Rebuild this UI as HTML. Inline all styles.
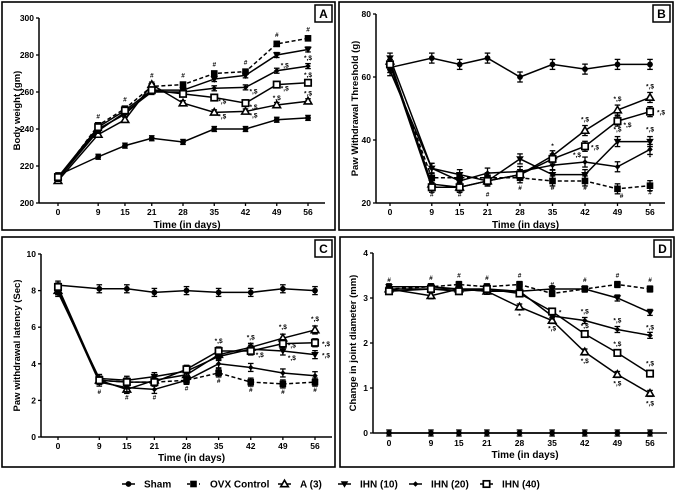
<!DOCTYPE html>
<html><head><meta charset="utf-8"><style>
html,body{margin:0;padding:0;background:#fff;}
svg{display:block;font-family:"Liberation Sans",Arial,sans-serif;}
text{font-weight:bold;fill:#000;}
</style></head><body>
<svg id="fig" width="677" height="500" viewBox="0 0 677 500"></svg>
<script>
const days = [0, 9, 15, 21, 28, 35, 42, 49, 56];
const seriesNames = ["Sham", "OVX Control", "A (3)", "IHN (10)", "IHN (20)", "IHN (40)"];
// Panel A: body weight
const aSham = [215, 225, 231, 235, 233, 240, 240, 245, 246];
const aOvx  = [213, 242, 251, 263, 264, 270, 271, 286, 289];
const aA3   = [212, 237, 245, 264, 254, 249, 249.5, 253, 255];
const aI10  = [214, 240, 248, 261, 261, 267, 269, 280, 283];
const aI20  = [213, 239, 249, 260, 260, 262, 262.5, 271.5, 274];
const aI40  = [214, 241, 250, 261, 259, 257, 254, 264, 265];
const aTicks = [200, 220, 240, 260, 280, 300];
// Panel B: paw withdrawal threshold
const bSham = [63, 66, 64, 66, 60, 64, 62.5, 64, 64];
const bOvx  = [64, 28, 28, 28, 28, 27, 27, 24.5, 25.5];
const bA3   = [65, 26, 25, 27, 29, 35, 43, 49.5, 53.5];
const bI10  = [66, 31, 29, 27, 34, 29, 29, 39.5, 39.5];
const bI20  = [62, 31, 27, 29.5, 30, 32, 33, 31.5, 37];
const bI40  = [64, 25, 25, 27, 29, 34, 38, 46, 49];
const bTicks = [20, 40, 60, 80];
// Panel C: paw withdrawal latency
const cSham = [8.3, 8.1, 8.1, 7.9, 8.0, 7.9, 7.9, 8.1, 8.0];
const cOvx  = [8.1, 3.1, 3.0, 3.0, 3.1, 3.5, 3.0, 2.9, 3.0];
const cA3   = [8.0, 3.1, 2.6, 3.1, 3.4, 4.5, 4.9, 5.4, 5.85];
const cI10  = [7.9, 3.2, 3.1, 3.3, 3.6, 4.4, 4.8, 4.7, 4.5];
const cI20  = [8.0, 3.0, 2.7, 2.6, 3.1, 4.0, 3.8, 3.5, 3.35];
const cI40  = [8.2, 3.1, 3.0, 3.0, 3.7, 4.7, 4.7, 5.1, 5.15];
const cTicks = [0, 2, 4, 6, 8, 10];
// Panel D: change in joint diameter
const dSham = [0, 0, 0, 0, 0, 0, 0, 0, 0];
const dOvx  = [3.2, 3.25, 3.3, 3.25, 3.3, 3.1, 3.2, 3.3, 3.2];
const dA3   = [3.2, 3.05, 3.2, 3.15, 2.8, 2.5, 1.8, 1.3, 0.88];
const dI10  = [3.25, 3.25, 3.2, 3.2, 3.15, 3.2, 3.2, 3.0, 2.68];
const dI20  = [3.2, 3.2, 3.2, 3.15, 3.15, 2.6, 2.5, 2.3, 2.17];
const dI40  = [3.15, 3.2, 3.15, 3.2, 3.1, 2.7, 2.2, 1.78, 1.32];
const dTicks = [0, 1, 2, 3, 4];

const NS = "http://www.w3.org/2000/svg";
const svg = document.getElementById("fig");
function el(tag, attrs, parent, txt) {
  const e = document.createElementNS(NS, tag);
  for (const k in attrs) e.setAttribute(k, attrs[k]);
  if (txt !== undefined) e.textContent = txt;
  (parent || svg).appendChild(e);
  return e;
}
const markers = ["circle", "square", "triangle", "invtri", "diamond", "opensquare"];
function marker(g, type, x, y) {
  let m;
  if (type === "circle") m = el("circle", {cx: x, cy: y, r: 2.9, fill: "#000"}, g);
  else if (type === "square") m = el("rect", {x: x - 3.3, y: y - 3.3, width: 6.6, height: 6.6, fill: "#000"}, g);
  else if (type === "triangle") m = el("polygon", {points: `${x},${y-3.8} ${x+3.8},${y+2.7} ${x-3.8},${y+2.7}`, fill: "#fff", stroke: "#000", "stroke-width": 1.6}, g);
  else if (type === "invtri") m = el("polygon", {points: `${x},${y+3.8} ${x+3.8},${y-2.7} ${x-3.8},${y-2.7}`, fill: "#000"}, g);
  else if (type === "diamond") m = el("polygon", {points: `${x},${y-2.8} ${x+2.8},${y} ${x},${y+2.8} ${x-2.8},${y}`, fill: "#000"}, g);
  else m = el("rect", {x: x - 3.2, y: y - 3.2, width: 6.4, height: 6.4, fill: "#fff", stroke: "#000", "stroke-width": 1.7}, g);
  
  
}
function panel(cfg) {
  const g = el("g", {});
  
  
  const fr = el("rect", {x: cfg.frame[0], y: cfg.frame[1], width: cfg.frame[2], height: cfg.frame[3], fill: "none", stroke: "#000", "stroke-width": 1.6}, g);
  
  
  const bx = cfg.frame[0] + cfg.frame[2] - 20, by = cfg.frame[1] + 3;
  const lb = el("rect", {x: bx, y: by, width: 17, height: 17, fill: "#fff", stroke: "#000", "stroke-width": 1.5}, g);
  
  
  const lt = el("text", {x: bx + 8.5, y: by + 13, "text-anchor": "middle", "font-size": 12}, g, cfg.letter);
  
  
  const ymin = cfg.ticks[0], ymax = cfg.ticks[cfg.ticks.length - 1];
  const sx = d => cfg.x0 + (d - days[0]) / (days[days.length - 1] - days[0]) * (cfg.x1 - cfg.x0);
  const sy = v => cfg.yb - (v - ymin) / (ymax - ymin) * (cfg.yb - cfg.yt);
  const ya = el("line", {x1: cfg.ax, y1: cfg.yt, x2: cfg.ax, y2: cfg.yb, stroke: "#000", "stroke-width": 1.5}, g);
  
  
  const xa = el("line", {x1: cfg.ax, y1: cfg.yb, x2: cfg.axEnd, y2: cfg.yb, stroke: "#000", "stroke-width": 1.5}, g);
  
  
  cfg.ticks.forEach(t => {
    el("line", {x1: cfg.ax - 3, y1: sy(t), x2: cfg.ax, y2: sy(t), stroke: "#000", "stroke-width": 1.3}, g);
    const tl = el("text", {x: cfg.ax - 5, y: sy(t) + 3, "text-anchor": "end", "font-size": 8.5}, g, t);
    
    
  });
  days.forEach(d => {
    el("line", {x1: sx(d), y1: cfg.yb, x2: sx(d), y2: cfg.yb + 3, stroke: "#000", "stroke-width": 1.3}, g);
    const tl = el("text", {x: sx(d), y: cfg.tickY, "text-anchor": "middle", "font-size": 8.5}, g, d);
    
    
  });
  const xt = el("text", {x: (cfg.ax + cfg.axEnd) / 2 + 5, y: cfg.titleY, "text-anchor": "middle", "font-size": 10}, g, "Time (in days)");
  
  
  const ycx = cfg.ylx, ycy = (cfg.yt + cfg.yb) / 2;
  const yt = el("text", {x: ycx, y: ycy, "text-anchor": "middle", "font-size": 9.5, transform: `rotate(-90 ${ycx} ${ycy})`}, g, cfg.ylabel);
  
  
  cfg.series.forEach((vals, si) => {
    const sg = el("g", {}, g);
    
    
    const pts = vals.map((v, i) => sx(days[i]) + "," + sy(v)).join(" ");
    const pl = el("polyline", {points: pts, fill: "none", stroke: "#000", "stroke-width": 1.5, "stroke-dasharray": si === 1 ? "4,2.5" : "none"}, sg);
    
    
    vals.forEach((v, i) => {
      const x = sx(days[i]), y = sy(v);
      if (cfg.err) {
        el("line", {x1: x, y1: y - cfg.err, x2: x, y2: y + cfg.err, stroke: "#000", "stroke-width": 1.3}, sg);
        el("line", {x1: x - 2.8, y1: y - cfg.err, x2: x + 2.8, y2: y - cfg.err, stroke: "#000", "stroke-width": 1.3}, sg);
        el("line", {x1: x - 2.8, y1: y + cfg.err, x2: x + 2.8, y2: y + cfg.err, stroke: "#000", "stroke-width": 1.3}, sg);
      }
      marker(sg, markers[si], x, y);
    });
  });
  (cfg.notes || []).forEach(n => {
    const a = el("text", {x: sx(n[0]) + n[3], y: sy(n[1]) + n[4], "font-size": 6.5, "text-anchor": "middle"}, g, n[2]);
    
    
  });
}
panel({letter: "A", frame: [2, 2, 333, 228], ax: 39, axEnd: 325, yt: 18, yb: 203, x0: 58, x1: 308,
  tickY: 215, titleY: 228, ylx: 20, ylabel: "Body weight (gm)", ticks: aTicks, err: 2.5,
  series: [aSham, aOvx, aA3, aI10, aI20, aI40],
  notes: [[9,242,"#",0,-7],[15,251,"#",0,-7],[21,264,"#",0,-7],[28,264,"#",0,-7],[35,270,"#",0,-7],[42,271,"#",0,-7],[49,286,"#",0,-7],[56,289,"#",0,-7],
    [35,257,"*,$",8,6],[35,249,"*,$",8,6],[42,262.5,"*,$",8,6],[42,254,"*,$",8,6],[42,249.5,"*,$",8,6],[49,271.5,"*,$",8,-3],[49,264,"*,$",8,6],[49,253,"*,$",0,-5],[56,274,"*,$",0,-6],[56,265,"*,$",0,-6],[56,255,"*,$",0,-6]]});
panel({letter: "B", frame: [339, 2, 334, 228], ax: 376, axEnd: 665, yt: 14, yb: 203, x0: 390, x1: 650,
  tickY: 215, titleY: 228, ylx: 358, ylabel: "Paw  Withdrawal Threshold (g)", ticks: bTicks, err: 5,
  series: [bSham, bOvx, bA3, bI10, bI20, bI40],
  notes: [[9,25,"#",0,9],[15,25,"#",0,9],[21,25,"#",0,9],[28,27,"#",0,9],[35,27,"#",0,9],[42,27,"#",0,9],[49,24.5,"#",4,9],[56,25.5,"#",0,9],
    [35,35,"*",0,-8],[42,43,"*,$",0,-9],[42,38,"*,$",10,3],[42,33,"*,$",-8,-5],[49,49.5,"*,$",0,-9],[49,46,"*,$",10,6],[49,39.5,"*,$",0,-10],[56,53.5,"*,$",0,-9],[56,49,"*,$",11,3],[56,39.5,"*,$",0,-10],[56,37,"*",0,10]]});
panel({letter: "C", frame: [2, 237, 333, 230], ax: 41, axEnd: 332, yt: 254, yb: 437, x0: 58, x1: 315,
  tickY: 449, titleY: 461, ylx: 20, ylabel: "Paw withdrawal latency (Sec)", ticks: cTicks, err: 4,
  series: [cSham, cOvx, cA3, cI10, cI20, cI40],
  notes: [[9,3.0,"#",0,12],[15,2.6,"#",0,10],[21,2.6,"#",0,10],[28,3.1,"#",0,10],[35,3.5,"#",0,10],[42,3.0,"#",0,10],[49,2.9,"#",0,10],[56,3.0,"#",0,10],
    [35,4.7,"*,$",0,-8],[42,4.9,"*,$",0,-8],[42,4.7,"*,$",9,6],[49,5.4,"*,$",0,-9],[49,5.1,"*,$",9,4],[49,4.7,"*,$",9,9],[56,5.85,"*,$",0,-9],[56,5.15,"*,$",11,3],[56,4.5,"*,$",11,3]]});
panel({letter: "D", frame: [340, 237, 334, 230], ax: 373, axEnd: 667, yt: 253, yb: 433, x0: 389, x1: 650,
  tickY: 446, titleY: 458, ylx: 356, ylabel: "Change in joint diameter (mm)", ticks: dTicks, err: 3,
  series: [dSham, dOvx, dA3, dI10, dI20, dI40],
  notes: [[0,3.2,"#",0,-7],[9,3.25,"#",0,-7],[15,3.3,"#",0,-7],[21,3.25,"#",0,-7],[28,3.3,"#",0,-7],[35,3.1,"#",0,-7],[42,3.2,"#",0,-7],[49,3.3,"#",0,-7],[56,3.2,"#",0,-7],
    [28,2.8,"*",0,11],[35,2.7,"*",8,3],[35,2.5,"*,$",0,10],[42,2.5,"*,$",0,-7],[42,2.2,"*,$",0,-6],[42,1.8,"*,$",0,11],[49,2.3,"*,$",0,-7],[49,1.78,"*,$",0,-7],[49,1.3,"*,$",0,11],[56,2.17,"*,$",0,-6],[56,1.32,"*,$",0,-8],[56,0.88,"*,$",0,12]]});
const legX = [122, 187, 278, 338, 409, 480];
const lg = el("g", {});


seriesNames.forEach((n, i) => {
  const eg = el("g", {}, lg);
  
  
  const x = legX[i], y = 484;
  el("line", {x1: x, y1: y, x2: x + 13, y2: y, stroke: "#000", "stroke-width": 1.5, "stroke-dasharray": i === 1 ? "3,3" : "none"}, eg);
  marker(eg, markers[i], x + 6.5, y);
  el("text", {x: x + (i === 1 ? 23 : 22), y: y + 3.5, "font-size": 10}, eg, n);
});
</script>
</body></html>
